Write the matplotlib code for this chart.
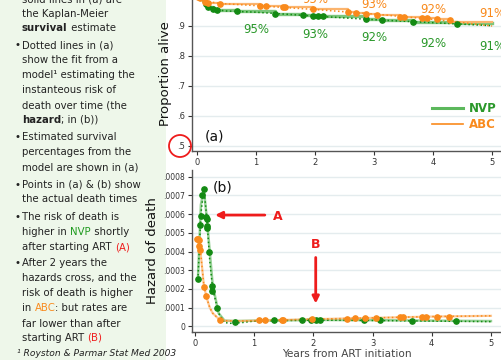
import matplotlib
matplotlib.use('Agg')
import matplotlib.pyplot as plt
from matplotlib.patches import Ellipse, Rectangle
from matplotlib.lines import Line2D

plt.rcParams['font.family'] = ['DejaVu Sans']

# ---- datos panel (a): supervivencia ----
years = [0, 1, 2, 3, 4, 5]
nvp_t_a = [0.157, 0.196, 0.27, 0.342, 0.68, 1.33, 1.80, 1.96, 2.06, 2.13, 2.86, 3.13, 3.66, 4.40]
nvp_s_a = [0.973, 0.962, 0.957, 0.952, 0.949, 0.941, 0.936, 0.934, 0.934, 0.933, 0.924, 0.920, 0.913, 0.907]
abc_t_a = [0.03, 0.06, 0.14, 0.186, 0.40, 1.07, 1.17, 1.455, 1.49, 1.97, 2.56, 2.69, 2.87, 3.05,
           3.445, 3.50, 3.82, 3.89, 4.07, 4.28]
abc_s_a = [0.997, 0.992, 0.981, 0.978, 0.973, 0.968, 0.967, 0.962, 0.962, 0.955, 0.946, 0.944, 0.941, 0.938,
           0.931, 0.931, 0.925, 0.925, 0.922, 0.919]
nvp_km_t = [0, 0.05, 0.09, 0.11, 0.157, 0.196, 0.27, 0.342, 0.68, 1.33, 1.80, 1.96, 2.06, 2.13, 2.86, 3.13, 3.66, 4.40, 5.0]
nvp_km_s = [1.0, 0.995, 0.99, 0.982, 0.973, 0.962, 0.957, 0.952, 0.949, 0.941, 0.936, 0.934, 0.934, 0.933, 0.924, 0.920, 0.913, 0.910, 0.910]
abc_km_t = [0, 0.03, 0.06, 0.14, 0.186, 0.40, 1.07, 1.17, 1.455, 1.49, 1.97, 2.56, 2.69, 2.87, 3.05,
            3.445, 3.50, 3.82, 3.89, 4.07, 4.28, 5.0]
abc_km_s = [1.0, 0.997, 0.992, 0.981, 0.978, 0.973, 0.968, 0.967, 0.962, 0.962, 0.955, 0.946, 0.944, 0.941, 0.938,
            0.931, 0.931, 0.925, 0.925, 0.922, 0.912, 0.912]
nvp_fit_t = [0, 0.05, 0.1, 0.15, 0.2, 0.3, 0.5, 1, 2, 3, 4, 5]
nvp_fit_s = [1.0, 0.997, 0.986, 0.975, 0.965, 0.955, 0.950, 0.946, 0.933, 0.921, 0.911, 0.901]
abc_fit_t = [0, 0.1, 0.2, 0.4, 1, 2, 3, 4, 5]
abc_fit_s = [1.0, 0.987, 0.981, 0.975, 0.968, 0.955, 0.940, 0.922, 0.900]
nvp_pct = ['95%', '93%', '92%', '92%', '91%']
nvp_pct_y = [0.887, 0.873, 0.860, 0.843, 0.832]
abc_pct = ['96%', '95%', '93%', '92%', '91%']
abc_pct_y = [0.997, 0.987, 0.970, 0.955, 0.943]

# ---- datos panel (b): riesgo ----
nvp_t_b = [0.056, 0.085, 0.096, 0.113, 0.157, 0.19, 0.195, 0.20, 0.205, 0.234, 0.287, 0.29, 0.372, 0.68,
           1.34, 1.80, 1.96, 2.04, 2.12, 2.86, 3.13, 3.66, 4.41]
nvp_h_b = [0.000253, 0.000542, 0.00059, 0.0007, 0.000736, 0.000586, 0.000575, 0.000536, 0.000527, 0.000397,
           0.000216, 0.00019, 0.0000963, 0.0000214, 0.0000339, 0.000034, 0.000034, 0.000034, 0.000034,
           0.000034, 0.000032, 0.000031, 0.00003]
abc_t_b = [0.028, 0.045, 0.062, 0.073, 0.085, 0.157, 0.186, 0.42, 1.08, 1.19, 1.465, 1.49, 1.98, 2.57, 2.70,
           2.87, 3.06, 3.46, 3.51, 3.83, 3.90, 4.09, 4.29]
abc_h_b = [0.000467, 0.000465, 0.000463, 0.000429, 0.000406, 0.00021, 0.000162, 0.0000353, 0.000033, 0.000033,
           0.000035, 0.000035, 0.000037, 0.000041, 0.000043, 0.000044, 0.000046, 0.000048, 0.000048,
           0.000049, 0.000049, 0.000049, 0.000049]
nvp_fit_tb = [0.05, 0.1, 0.15, 0.2, 0.25, 0.3, 0.4, 0.5, 0.6, 0.8, 1, 2, 3, 4, 5]
nvp_fit_hb = [0.00025, 0.0006, 0.00074, 0.00058, 0.00035, 0.0002, 0.00007, 0.00002, 0.000016, 0.00002,
              0.000028, 0.000033, 0.000031, 0.000028, 0.000025]
nvp_smooth_tb = [0.05, 0.1, 0.15, 0.2, 0.25, 0.3, 0.4, 0.5, 0.7, 1, 2, 3, 4, 5]
nvp_smooth_hb = [0.00025, 0.00065, 0.00073, 0.00058, 0.0004, 0.00022, 0.00007, 0.00003, 0.000028, 0.00003,
                 0.000034, 0.000033, 0.00003, 0.000028]
abc_fit_tb = [0.02, 0.05, 0.1, 0.15, 0.2, 0.25, 0.3, 0.4, 0.5, 0.7, 1, 2, 3, 4, 5]
abc_fit_hb = [0.00047, 0.00046, 0.00038, 0.00022, 0.00015, 0.0001, 0.00007, 0.00004, 0.00003, 0.000028,
              0.00003, 0.000038, 0.000045, 0.000052, 0.000056]

C_VERDE = '#138a13'
C_VERDE_CLARO = '#7cc67c'
C_NAR = '#f98a1c'
C_NAR_CLARO = '#fbb46e'
C_ROJO = '#ee1c1c'
C_TEXTO = '#222222'

fig = plt.figure(figsize=(5.01, 3.6), dpi=100)
fig.patch.set_facecolor('white')
W, H = 501.0, 360.0

# fondo verde pálido de la diapositiva (columna izquierda), por debajo de los ejes
fig.patches.append(Rectangle((0, 0), 166 / W, 1, transform=fig.transFigure,
                             facecolor='#eef7ea', edgecolor='none', zorder=-1))


def estilo_ejes(ax):
    for lado in ['top', 'right']:
        ax.spines[lado].set_visible(False)
    for lado in ['left', 'bottom']:
        ax.spines[lado].set_color('#555555')
        ax.spines[lado].set_linewidth(1.0)
    ax.tick_params(direction='out', length=3, width=0.8, colors='#333333', labelsize=6, pad=2)
    ax.set_facecolor('white')
    ax.grid(axis='y', color='#e4ecee', linewidth=1.0)
    ax.set_axisbelow(True)
    ax.set_xticks(years)
    ax.set_xticklabels([str(y) for y in years])


# ---- panel (a) ----
ax1 = fig.add_axes([192 / W, 1 - 151 / H, 309 / W, 155 / H])
estilo_ejes(ax1)
ax1.set_xlim(-0.08, 5.15)
ax1.set_ylim(0.4833, 1.0)
ax1.set_yticks([0.5, 0.6, 0.7, 0.8, 0.9, 1.0])
ax1.set_yticklabels(['.5', '.6', '.7', '.8', '.9', '1'])

ax1.plot(nvp_km_t, nvp_km_s, drawstyle='steps-post', color=C_VERDE_CLARO, lw=2.4, zorder=2)
ax1.plot(abc_km_t, abc_km_s, drawstyle='steps-post', color=C_NAR_CLARO, lw=1.6, zorder=2)
ax1.plot(nvp_fit_t, nvp_fit_s, ':', color=C_VERDE, lw=1.1, zorder=3)
ax1.plot(abc_fit_t, abc_fit_s, ':', color=C_NAR, lw=1.1, zorder=3)
ax1.plot(nvp_t_a, nvp_s_a, 'o', color=C_VERDE, ms=3.8, zorder=4)
ax1.plot(abc_t_a, abc_s_a, 'o', color=C_NAR, ms=3.8, zorder=4)

for x, txt, y in zip(years[1:], nvp_pct, nvp_pct_y):
    ax1.text(x, y, txt, color='#2a982a', fontsize=8.5, ha='center', va='center')
for x, txt, y in zip(years[1:], abc_pct, abc_pct_y):
    ax1.text(x, y, txt, color=C_NAR, fontsize=8.5, ha='center', va='center')

ax1.text(0.14, 0.533, '(a)', fontsize=10, color='#111111', va='center', ha='left')
ax1.set_ylabel('Proportion alive', fontsize=9.5, color='#111111', labelpad=4)

handles = [Line2D([], [], color='#5cb85c', lw=2.2), Line2D([], [], color=C_NAR, lw=1.2)]
leg = ax1.legend(handles, ['NVP', 'ABC'], loc='upper right', bbox_to_anchor=(1.02, 0.385),
                 frameon=False, handlelength=2.6, handletextpad=0.5, labelspacing=0.3,
                 prop={'size': 8.5, 'weight': 'bold'})
leg.get_texts()[0].set_color('#2a982a')
leg.get_texts()[1].set_color(C_NAR)

# ---- panel (b) ----
ax2 = fig.add_axes([192 / W, 1 - 331.7 / H, 309 / W, 161.7 / H])
estilo_ejes(ax2)
ax2.set_xlim(-0.05, 5.17)
ax2.set_ylim(-0.0000289, 0.000836)
ticks_b = [0, 0.0001, 0.0002, 0.0003, 0.0004, 0.0005, 0.0006, 0.0007, 0.0008]
ax2.set_yticks(ticks_b)
ax2.set_yticklabels(['0', '.0001', '.0002', '.0003', '.0004', '.0005', '.0006', '.0007', '.0008'])
ax2.tick_params(axis='y', labelsize=5.5)

ax2.plot(nvp_smooth_tb, nvp_smooth_hb, color=C_VERDE_CLARO, lw=1.8, alpha=0.8, zorder=2)
ax2.plot(abc_fit_tb, abc_fit_hb, color=C_NAR_CLARO, lw=1.6, alpha=0.7, zorder=2)
ax2.plot(nvp_fit_tb, nvp_fit_hb, ':', color=C_VERDE, lw=1.1, zorder=3)
ax2.plot(abc_fit_tb, abc_fit_hb, ':', color=C_NAR, lw=1.1, zorder=3)
ax2.plot(nvp_t_b, nvp_h_b, 'o', color=C_VERDE, ms=3.8, zorder=4)
ax2.plot(abc_t_b, abc_h_b, 'o', color=C_NAR, ms=3.8, zorder=4)

ax2.text(0.30, 0.00074, '(b)', fontsize=10, color='#111111', va='center', ha='left')
ax2.set_ylabel('Hazard of death', fontsize=9.5, color='#111111', labelpad=3)
ax2.set_xlabel('Years from ART initiation', fontsize=7.6, color='#444444', labelpad=1)

flecha = dict(arrowstyle='-|>', color=C_ROJO, lw=2.0, mutation_scale=10, shrinkA=0, shrinkB=0)
ax2.annotate('', xy=(0.34, 0.000595), xytext=(1.18, 0.000595), arrowprops=flecha)
ax2.text(1.40, 0.000585, 'A', color=C_ROJO, fontsize=9, fontweight='bold', ha='center', va='center')
ax2.annotate('', xy=(2.04, 0.000122), xytext=(2.04, 0.000368), arrowprops=flecha)
ax2.text(2.04, 0.00044, 'B', color=C_ROJO, fontsize=9, fontweight='bold', ha='center', va='center')

# círculo rojo alrededor de ".5"
fig.patches.append(Ellipse((180 / W, 1 - 146 / H), 22 / W, 22 / H, transform=fig.transFigure,
                           fill=False, edgecolor=C_ROJO, linewidth=1.3, zorder=5))

# ---- texto de la columna izquierda ----
lineas = [
    (-1, False, [('solid lines in (a) are', C_TEXTO, 'normal')]),
    (14, False, [('the Kaplan-Meier', C_TEXTO, 'normal')]),
    (28, False, [('survival', C_TEXTO, 'bold'), (' estimate', C_TEXTO, 'normal')]),
    (45, True, [('Dotted lines in (a)', C_TEXTO, 'normal')]),
    (60, False, [('show the fit from a', C_TEXTO, 'normal')]),
    (75, False, [('model\u00b9 estimating the', C_TEXTO, 'normal')]),
    (90, False, [('instanteous risk of', C_TEXTO, 'normal')]),
    (105, False, [('death over time (the', C_TEXTO, 'normal')]),
    (120, False, [('hazard', C_TEXTO, 'bold'), ('; in (b))', C_TEXTO, 'normal')]),
    (137, True, [('Estimated survival', C_TEXTO, 'normal')]),
    (152, False, [('percentages from the', C_TEXTO, 'normal')]),
    (167, False, [('model are shown in (a)', C_TEXTO, 'normal')]),
    (185, True, [('Points in (a) & (b) show', C_TEXTO, 'normal')]),
    (199, False, [('the actual death times', C_TEXTO, 'normal')]),
    (217, True, [('The risk of death is', C_TEXTO, 'normal')]),
    (232, False, [('higher in ', C_TEXTO, 'normal'), ('NVP', '#1f9a1f', 'normal'),
                  (' shortly', C_TEXTO, 'normal')]),
    (247, False, [('after starting ART ', C_TEXTO, 'normal'), ('(A)', C_ROJO, 'normal')]),
    (263, True, [('After 2 years the', C_TEXTO, 'normal')]),
    (278, False, [('hazards cross, and the', C_TEXTO, 'normal')]),
    (293, False, [('risk of death is higher', C_TEXTO, 'normal')]),
    (308, False, [('in ', C_TEXTO, 'normal'), ('ABC', C_NAR, 'normal'),
                  (': but rates are', C_TEXTO, 'normal')]),
    (324, False, [('far lower than after', C_TEXTO, 'normal')]),
    (338, False, [('starting ART ', C_TEXTO, 'normal'), ('(B)', C_ROJO, 'normal')]),
]

renderer = fig.canvas.get_renderer()
X0 = 22
for y, vineta, partes in lineas:
    if vineta:
        fig.text(15 / W, 1 - y / H, '\u2022', fontsize=7.3, color=C_TEXTO, va='center')
    x = X0
    for texto, color, peso in partes:
        t = fig.text(x / W, 1 - y / H, texto, fontsize=7.3, color=color, fontweight=peso, va='center')
        x += t.get_window_extent(renderer).width

fig.text(17 / W, 1 - 353 / H, '\u00b9 Royston & Parmar Stat Med 2003', fontsize=6.6,
         style='italic', color=C_TEXTO, va='center')

fig.savefig('out.png', dpi=100)
plt.close(fig)
